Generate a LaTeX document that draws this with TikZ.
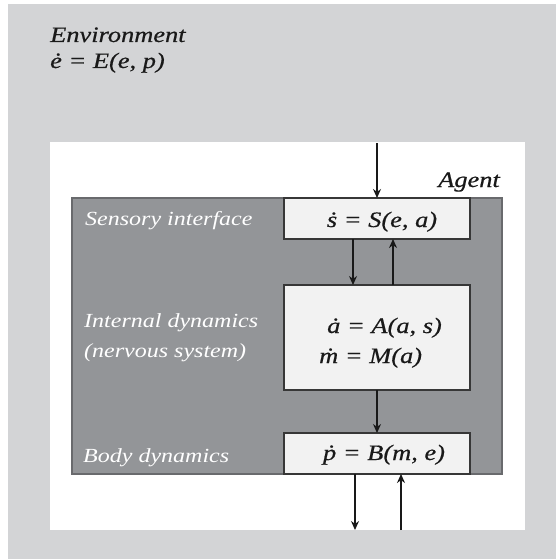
\documentclass[tikz,border=0pt]{standalone}
\usepackage{fontspec}
\setmainfont{Liberation Serif}[FakeStretch=1.2]
\newfontfamily\heavyserif{Liberation Serif}[FakeStretch=1.2, FakeBold=0.6]
\usetikzlibrary{arrows.meta}
\definecolor{envgray}{RGB}{211,212,214}
\definecolor{agentgray}{RGB}{147,149,152}
\definecolor{agentedge}{RGB}{105,106,109}
\definecolor{boxfill}{RGB}{242,242,242}
\definecolor{boxedge}{RGB}{55,55,55}
\tikzset{
  region/.style={rectangle, inner sep=0pt, outer sep=0pt, anchor=north west},
  eqbox/.style={region, fill=boxfill, draw=boxedge, line width=1.3pt, minimum width=186pt},
  flow/.style={line width=1.4pt, draw=black!90, -{Stealth[length=9pt,width=8pt]}},
  dark/.style={font=\heavyserif\fontsize{22}{26}\selectfont\itshape, text=black!90, inner sep=0pt},
  light/.style={font=\fontsize{20}{24}\selectfont\itshape, text=white, inner sep=0pt},
  eq/.style={font=\heavyserif\fontsize{22}{26}\selectfont\itshape, text=black!90, inner sep=0pt}
}
\begin{document}
\begin{tikzpicture}[x=1pt,y=-1pt]
  \useasboundingbox (0,0) rectangle (556,559);
  % environment, agent and the three equation boxes
  \node[region, fill=envgray, minimum width=548pt, minimum height=555pt] (env) at (8,4) {};
  \node[region, fill=white, minimum width=475pt, minimum height=388pt] (world) at (50,142) {};
  \node[region, fill=agentgray, draw=agentedge, line width=1.3pt, minimum width=430pt, minimum height=276pt] (agent) at (72,198) {};
  \node[eqbox, minimum height=41pt] (sens) at (284,198) {};
  \node[eqbox, minimum height=105pt] (int) at (284,285) {};
  \node[eqbox, minimum height=41pt] (body) at (284,433) {};

  % titles
  \node[dark, anchor=base west] (envtitle) at (50,42) {Environment};
  \node[dark, anchor=base west] (enveq) at (50,68) {\.{e} = E(e, p)};
  \node[dark, anchor=base east] (agtitle) at (500,187) {Agent};

  % labels on the agent
  \node[light, anchor=base west] (lsens) at (85,225) {Sensory interface};
  \node[light, anchor=base west] (lint1) at (84,327) {Internal dynamics};
  \node[light, anchor=base west] (lint2) at (84,357) {(nervous system)};
  \node[light, anchor=base west] (lbody) at (83,462) {Body dynamics};

  % equations
  \node[eq, anchor=base] (seq) at (382,227) {\.{s} = S(e, a)};
  \node[eq, anchor=base west] (aeq) at (327,333) {\.{a} = A(a, s)};
  \node[eq, anchor=base west] (meq) at (319,363) {\.{m} = M(a)};
  \node[eq, anchor=base] (peq) at (384,460) {\.{p} = B(m, e)};

  % connectors
  \coordinate (envin) at (377,143);
  \coordinate (bodyout) at (355,530);
  \coordinate (bodyin) at (401,530);
  \draw[flow] (envin) -- (sens.north -| envin);
  \draw[flow] ([xshift=-24pt]sens.south) -- ([xshift=-24pt]int.north);
  \draw[flow] ([xshift=16pt]int.north) -- ([xshift=16pt]sens.south);
  \draw[flow] (int.south) -- (body.north);
  \draw[flow] (body.south -| bodyout) -- (bodyout);
  \draw[flow] (bodyin) -- (body.south -| bodyin);
\end{tikzpicture}
\end{document}
